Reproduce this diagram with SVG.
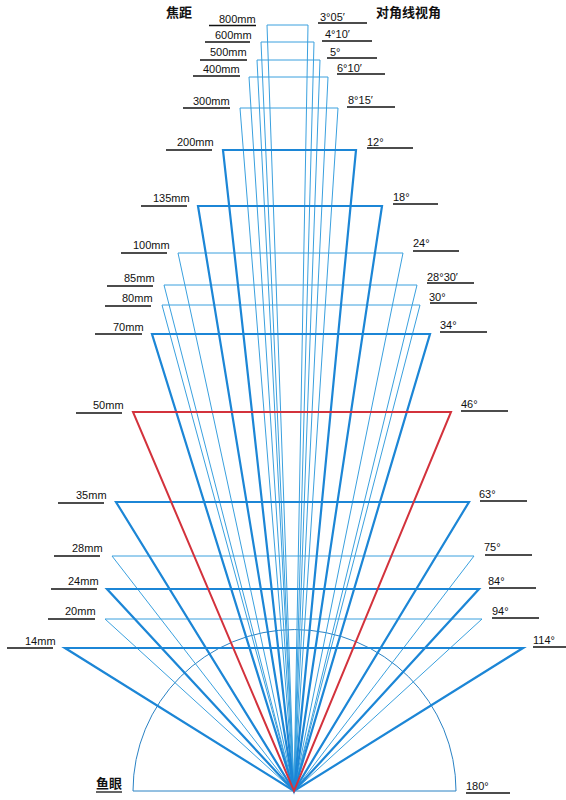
<svg xmlns="http://www.w3.org/2000/svg" width="566" height="800" viewBox="0 0 566 800">
<style>
  .bg{fill:#ffffff}
  .thin{fill:none;stroke:#3aa0de;stroke-width:1;stroke-linejoin:miter}
  .thick{fill:none;stroke:#1c86d6;stroke-width:2.2;stroke-linejoin:miter}
  .red{fill:none;stroke:#d3323c;stroke-width:2;stroke-linejoin:miter}
  .arc{fill:none;stroke:#2a82c4;stroke-width:1}
  .ul{stroke:#111;stroke-width:1.3}
  .lb{font-family:"Liberation Sans",Arial,sans-serif;font-size:11px;fill:#111}
  .cn{font-family:"Noto Sans CJK SC","Noto Sans CJK JP",sans-serif;font-size:13px;font-weight:bold;fill:#111}
</style>
<rect class="bg" x="0" y="0" width="566" height="800"/>

<g id="titles">
  <text class="cn" x="166" y="17">焦距</text>
  <text class="cn" x="376" y="17">对角线视角</text>
</g>

<g id="fisheye">
  <path class="arc" d="M133,791 A161.5,161.5 0 0 1 456,791 Z"/>
  <text class="cn" x="96" y="788">鱼眼</text>
  <line class="ul" x1="96" y1="792" x2="122" y2="792"/>
  <text class="lb" x="466" y="790">180°</text>
  <line class="ul" x1="466" y1="793" x2="510" y2="793"/>
</g>

<g id="f800">
  <path class="thin" d="M267,25 L308,25 L294,791 Z"/>
  <text class="lb" x="219" y="23">800mm</text><line class="ul" x1="209" y1="25.5" x2="256" y2="25.5"/>
  <text class="lb" x="320" y="21">3°05′</text><line class="ul" x1="318" y1="23" x2="367" y2="23"/>
</g>
<g id="f600">
  <path class="thin" d="M261,42 L314,42 L294,791 Z"/>
  <text class="lb" x="215" y="39">600mm</text><line class="ul" x1="205" y1="42" x2="250" y2="42"/>
  <text class="lb" x="325" y="38">4°10′</text><line class="ul" x1="322" y1="41" x2="372" y2="41"/>
</g>
<g id="f500">
  <path class="thin" d="M257,60 L320,60 L294,791 Z"/>
  <text class="lb" x="210" y="56">500mm</text><line class="ul" x1="200" y1="60" x2="247" y2="60"/>
  <text class="lb" x="330" y="56">5°</text><line class="ul" x1="327" y1="58" x2="377" y2="58"/>
</g>
<g id="f400">
  <path class="thin" d="M249,77 L328,77 L294,791 Z"/>
  <text class="lb" x="203" y="73">400mm</text><line class="ul" x1="193" y1="76" x2="240" y2="76"/>
  <text class="lb" x="337" y="72">6°10′</text><line class="ul" x1="337" y1="74" x2="385" y2="74"/>
</g>
<g id="f300">
  <path class="thin" d="M240,108 L338,108 L294,791 Z"/>
  <text class="lb" x="193" y="105">300mm</text><line class="ul" x1="183" y1="108" x2="230" y2="108"/>
  <text class="lb" x="348" y="104">8°15′</text><line class="ul" x1="347" y1="107" x2="395" y2="107"/>
</g>
<g id="f100">
  <path class="thin" d="M178,253 L403,253 L294,791 Z"/>
  <text class="lb" x="133" y="249">100mm</text><line class="ul" x1="121" y1="253" x2="167" y2="253"/>
  <text class="lb" x="413" y="247">24°</text><line class="ul" x1="413" y1="251" x2="459" y2="251"/>
</g>
<g id="f85">
  <path class="thin" d="M164,285 L417,285 L294,791 Z"/>
  <text class="lb" x="124" y="282">85mm</text><line class="ul" x1="107" y1="286" x2="153" y2="286"/>
  <text class="lb" x="427" y="281">28°30′</text><line class="ul" x1="427" y1="283" x2="474" y2="283"/>
</g>
<g id="f80">
  <path class="thin" d="M162,305 L420,305 L294,791 Z"/>
  <text class="lb" x="122" y="302">80mm</text><line class="ul" x1="105" y1="306" x2="151" y2="306"/>
  <text class="lb" x="429" y="301">30°</text><line class="ul" x1="430" y1="303" x2="477" y2="303"/>
</g>
<g id="f28">
  <path class="thin" d="M112,556 L474,556 L294,791 Z"/>
  <text class="lb" x="72" y="552">28mm</text><line class="ul" x1="54" y1="556" x2="100" y2="556"/>
  <text class="lb" x="484" y="551">75°</text><line class="ul" x1="485" y1="555" x2="532" y2="555"/>
</g>
<g id="f20">
  <path class="thin" d="M105,619 L482,619 L294,791 Z"/>
  <text class="lb" x="65" y="615">20mm</text><line class="ul" x1="48" y1="619" x2="95" y2="619"/>
  <text class="lb" x="492" y="615">94°</text><line class="ul" x1="492" y1="618" x2="539" y2="618"/>
</g>

<g id="f200">
  <path class="thick" d="M223,150 L356,150 L294,791 Z"/>
  <text class="lb" x="177" y="146">200mm</text><line class="ul" x1="166" y1="150" x2="212" y2="150"/>
  <text class="lb" x="367" y="146">12°</text><line class="ul" x1="367" y1="148" x2="413" y2="148"/>
</g>
<g id="f135">
  <path class="thick" d="M198,206 L382,206 L294,791 Z"/>
  <text class="lb" x="153" y="202">135mm</text><line class="ul" x1="141" y1="206" x2="187" y2="206"/>
  <text class="lb" x="393" y="201">18°</text><line class="ul" x1="393" y1="204" x2="438" y2="204"/>
</g>
<g id="f70">
  <path class="thick" d="M152,334 L430,334 L294,791 Z"/>
  <text class="lb" x="113" y="331">70mm</text><line class="ul" x1="95" y1="334" x2="142" y2="334"/>
  <text class="lb" x="440" y="329">34°</text><line class="ul" x1="440" y1="332" x2="487" y2="332"/>
</g>
<g id="f35">
  <path class="thick" d="M116,502 L469,502 L294,791 Z"/>
  <text class="lb" x="76" y="499">35mm</text><line class="ul" x1="58" y1="503" x2="104" y2="503"/>
  <text class="lb" x="479" y="498">63°</text><line class="ul" x1="480" y1="501" x2="527" y2="501"/>
</g>
<g id="f24">
  <path class="thick" d="M107,589 L479,589 L294,791 Z"/>
  <text class="lb" x="68" y="585">24mm</text><line class="ul" x1="51" y1="589" x2="97" y2="589"/>
  <text class="lb" x="488" y="585">84°</text><line class="ul" x1="489" y1="588" x2="536" y2="588"/>
</g>
<g id="f14">
  <path class="thick" d="M65,648 L523,648 L294,791 Z"/>
  <text class="lb" x="25" y="645">14mm</text><line class="ul" x1="7" y1="648" x2="53" y2="648"/>
  <text class="lb" x="533" y="644">114°</text><line class="ul" x1="533" y1="647" x2="566" y2="647"/>
</g>
<g id="f50">
  <path class="red" d="M133,412 L451,412 L294,791 Z"/>
  <text class="lb" x="93" y="409">50mm</text><line class="ul" x1="76" y1="413" x2="122" y2="413"/>
  <text class="lb" x="461" y="408">46°</text><line class="ul" x1="461" y1="411" x2="508" y2="411"/>
</g>
</svg>
